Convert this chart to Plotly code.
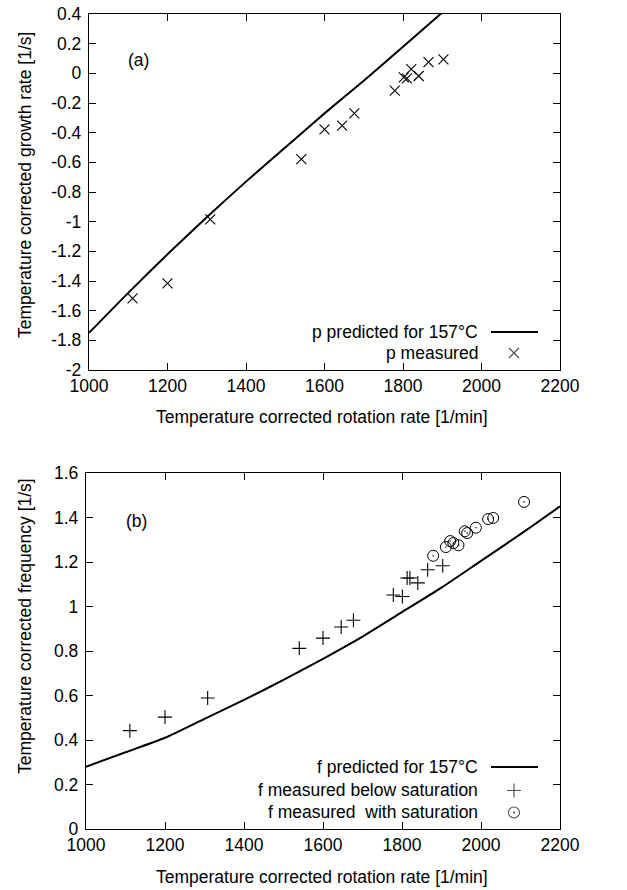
import plotly.graph_objects as go

# ---------- data: panel (a) ----------
a_meas_x = [1111, 1200, 1309, 1541, 1600, 1645, 1676, 1779, 1802, 1810, 1821, 1840, 1865, 1903]
a_meas_y = [-1.517, -1.416, -0.985, -0.578, -0.378, -0.353, -0.270, -0.117, -0.027, -0.034, 0.029, -0.018, 0.076, 0.094]
a_pred_x = [1000, 1100, 1200, 1300, 1400, 1500, 1600, 1700, 1800, 1900, 1950]
a_pred_y = [-1.75, -1.48, -1.22, -0.97, -0.73, -0.50, -0.27, -0.05, 0.18, 0.41, 0.52]
a_ytick_vals = [-2, -1.8, -1.6, -1.4, -1.2, -1, -0.8, -0.6, -0.4, -0.2, 0, 0.2, 0.4]
a_ytick_text = ["-2", "-1.8", "-1.6", "-1.4", "-1.2", "-1", "-0.8", "-0.6", "-0.4", "-0.2", "0", "0.2", "0.4"]

# ---------- data: panel (b) ----------
b_below_x = [1111, 1200, 1308, 1540, 1600, 1646, 1677, 1778, 1801, 1813, 1820, 1840, 1865, 1903]
b_below_y = [0.442, 0.503, 0.589, 0.812, 0.858, 0.908, 0.938, 1.052, 1.045, 1.128, 1.128, 1.106, 1.165, 1.183]
b_sat_x = [1879, 1911, 1922, 1930, 1943, 1959, 1965, 1987, 2018, 2031, 2109]
b_sat_y = [1.228, 1.267, 1.294, 1.285, 1.275, 1.338, 1.330, 1.354, 1.393, 1.398, 1.470]
b_pred_x = [1000, 1100, 1200, 1300, 1400, 1500, 1600, 1700, 1800, 1900, 2000, 2100, 2200]
b_pred_y = [0.28, 0.345, 0.41, 0.495, 0.58, 0.67, 0.765, 0.865, 0.975, 1.085, 1.205, 1.325, 1.45]

# ---------- text ----------
x_title = "Temperature corrected rotation rate [1/min]"
ya_title = "Temperature corrected growth rate [1/s]"
yb_title = "Temperature corrected frequency [1/s]"
a_leg = ["p predicted for 157°C", "p measured"]
b_leg = ["f predicted for 157°C", "f measured below saturation", "f measured  with saturation"]

W, H = 627, 890
FONT = "Liberation Sans, Arial, Helvetica, sans-serif"
FS = 17.5

fig = go.Figure()

# panel (a)
fig.add_trace(go.Scatter(x=a_pred_x, y=a_pred_y, mode="lines",
                         line=dict(color="black", width=2, shape="spline", smoothing=0.6),
                         xaxis="x", yaxis="y", showlegend=False))
fig.add_trace(go.Scatter(x=a_meas_x, y=a_meas_y, mode="markers",
                         marker=dict(symbol="x-thin", size=10, color="black", line=dict(width=1.1, color="black")),
                         xaxis="x", yaxis="y", showlegend=False))
# panel (b)
fig.add_trace(go.Scatter(x=b_pred_x, y=b_pred_y, mode="lines",
                         line=dict(color="black", width=2, shape="spline", smoothing=0.6),
                         xaxis="x2", yaxis="y2", showlegend=False))
fig.add_trace(go.Scatter(x=b_below_x, y=b_below_y, mode="markers",
                         marker=dict(symbol="cross-thin", size=10, color="black", line=dict(width=1.1, color="black")),
                         xaxis="x2", yaxis="y2", showlegend=False))
fig.add_trace(go.Scatter(x=b_sat_x, y=b_sat_y, mode="markers",
                         marker=dict(symbol="circle-open-dot", size=11, color="black", line=dict(width=1, color="black")),
                         xaxis="x2", yaxis="y2", showlegend=False))

# legend key samples on a full-figure pixel axis
fig.add_trace(go.Scatter(x=[514, 514, 514], y=[353, 790.5, 812.5], mode="markers",
                         marker=dict(symbol=["x-thin", "cross-thin", "circle-open-dot"], size=[10, 10, 11],
                                     color="black", line=dict(width=1.1, color="black")),
                         xaxis="x3", yaxis="y3", showlegend=False, hoverinfo="skip"))

def px(xp):
    return xp / W

def py(yp):
    return 1 - yp / H

axis_common = dict(showline=True, linecolor="black", linewidth=1.3, mirror="ticks", ticks="inside",
                   ticklen=7, tickwidth=1, tickcolor="black", showgrid=False, zeroline=False,
                   automargin=False, tickfont=dict(family=FONT, size=FS, color="black"))

a_dom_x = [px(89), px(560)]
a_dom_y = [py(370), py(14)]
b_dom_x = [px(86), px(560)]
b_dom_y = [py(829), py(473)]

fig.update_layout(
    width=W, height=H, margin=dict(l=0, r=0, t=0, b=0, autoexpand=False),
    paper_bgcolor="white", plot_bgcolor="rgba(0,0,0,0)",
    font=dict(family=FONT, size=FS, color="black"),
    xaxis=dict(domain=a_dom_x, range=[1000, 2200], dtick=200, anchor="y", **axis_common),
    yaxis=dict(domain=a_dom_y, range=[-2, 0.4], tickmode="array", tickvals=a_ytick_vals,
               ticktext=a_ytick_text, anchor="x", ticklabelstandoff=3, **axis_common),
    xaxis2=dict(domain=b_dom_x, range=[1000, 2200], dtick=200, anchor="y2", **axis_common),
    yaxis2=dict(domain=b_dom_y, range=[0, 1.6], dtick=0.2, anchor="x2", ticklabelstandoff=3, **axis_common),
    xaxis3=dict(domain=[0, 1], range=[0, W], visible=False, anchor="y3", automargin=False),
    yaxis3=dict(domain=[0, 1], range=[H, 0], visible=False, anchor="x3", automargin=False),
)

ann = []
def text(x, y, s, xanchor="center", angle=0):
    ann.append(dict(x=px(x), y=py(y), xref="paper", yref="paper", text=s, showarrow=False,
                    xanchor=xanchor, yanchor="middle", textangle=angle,
                    font=dict(family=FONT, size=FS, color="black")))

text(322, 417, x_title)
text(322, 877, x_title)
text(25, 185, ya_title, angle=-90)
text(25, 626, yb_title, angle=-90)
text(138, 60, "(a)")
text(136, 521, "(b)")
text(480, 332, a_leg[0], xanchor="right")
text(480, 353, a_leg[1], xanchor="right")
text(480, 767, b_leg[0], xanchor="right")
text(480, 790, b_leg[1], xanchor="right")
text(480, 812, b_leg[2], xanchor="right")
fig.update_layout(annotations=ann)

shapes = [
    dict(type="line", xref="paper", yref="paper", x0=px(491), x1=px(538), y0=py(332), y1=py(332),
         line=dict(color="black", width=2)),
    dict(type="line", xref="paper", yref="paper", x0=px(491), x1=px(538), y0=py(767), y1=py(767),
         line=dict(color="black", width=2)),
]
fig.update_layout(shapes=shapes)

fig.write_html("out.html", config={"displayModeBar": False},
               post_script="document.body.style.margin='0';document.body.style.overflow='hidden';")
